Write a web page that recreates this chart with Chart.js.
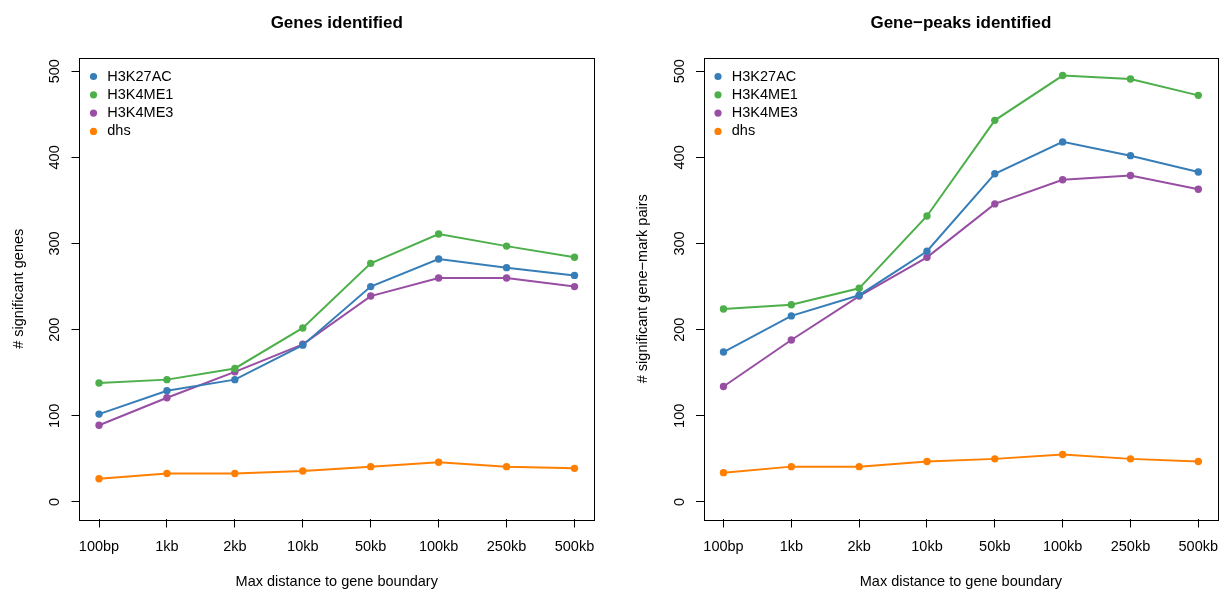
<!DOCTYPE html>
<html>
<head>
<meta charset="utf-8">
<title>Genes identified by distance</title>
<script src="https://cdn.jsdelivr.net/npm/chart.js@4.4.1/dist/chart.umd.min.js"></script>
<style>
  html, body { margin: 0; padding: 0; background: #fff; }
  #wrap { position: relative; width: 1221px; height: 590px; }
  canvas { position: absolute; top: 0; }
</style>
</head>
<body>
<div id="wrap">
  <canvas id="genes" width="610" height="590" style="left:0"></canvas>
  <canvas id="peaks" width="611" height="590" style="left:610px"></canvas>
</div>
<script>
// Distance categories and mark names
const distances = ['100bp', '1kb', '2kb', '10kb', '50kb', '100kb', '250kb', '500kb'];
const marks = ['H3K27AC', 'H3K4ME1', 'H3K4ME3', 'dhs'];
const yTicks = [0, 100, 200, 300, 400, 500];

// Number of significant genes per mark
const genesH3K27AC = [102, 129, 142, 182, 250, 282, 272, 263];
const genesH3K4ME1 = [138, 142, 155, 202, 277, 311, 297, 284];
const genesH3K4ME3 = [89, 121, 151, 183, 239, 260, 260, 250];
const genesDhs = [27, 33, 33, 36, 41, 46, 41, 39];

// Number of significant gene-mark pairs per mark
const peaksH3K27AC = [174, 216, 240, 291, 381, 418, 402, 383];
const peaksH3K4ME1 = [224, 229, 248, 332, 443, 495, 491, 472];
const peaksH3K4ME3 = [134, 188, 239, 284, 346, 374, 379, 363];
const peaksDhs = [34, 41, 41, 47, 50, 55, 50, 47];

const markColors = ['#377EB8', '#4DAF4A', '#984EA3', '#FF7F00'];

const FONT = '"Liberation Sans", Arial, Helvetica, sans-serif';
Chart.defaults.font.family = FONT;
Chart.defaults.color = '#000';

// shared y range, like R's ylim = c(0, max) with 4% padding
const yMax = Math.max(...genesH3K4ME1, ...peaksH3K4ME1);
const yPad = yMax * 0.04;
const xPad = (distances.length - 1) * 0.04;

// frame around the plot area
const boxPlugin = {
  id: 'box',
  afterDraw(chart) {
    const { ctx, chartArea: a } = chart;
    ctx.save();
    ctx.strokeStyle = '#000';
    ctx.lineWidth = 1;
    ctx.strokeRect(Math.round(a.left) - 0.5, Math.round(a.top) - 0.5,
      Math.round(a.right - a.left) + 1, Math.round(a.bottom - a.top) + 1);
    ctx.restore();
  }
};

// legend in the top-left corner of the plot area
const cornerLegend = {
  id: 'cornerLegend',
  afterDatasetsDraw(chart) {
    const { ctx, chartArea: a } = chart;
    ctx.save();
    ctx.font = '14.5px ' + FONT;
    ctx.textBaseline = 'middle';
    ctx.textAlign = 'left';
    chart.data.datasets.forEach((ds, i) => {
      const y = a.top + 18 + i * 18.3;
      ctx.fillStyle = ds.borderColor;
      ctx.beginPath();
      ctx.arc(a.left + 13.5, y, 3.6, 0, Math.PI * 2);
      ctx.fill();
      ctx.fillStyle = '#000';
      ctx.fillText(ds.label, a.left + 27.3, y);
    });
    ctx.restore();
  }
};

function makeChart(id, title, yLabel, series, axisWidth, padRight, yTitleX) {
  const datasets = series.map((values, i) => ({
    label: marks[i],
    data: values.map((v, j) => ({ x: j + 1, y: v })),
    borderColor: markColors[i],
    backgroundColor: markColors[i],
    pointBackgroundColor: markColors[i],
    borderWidth: 2,
    pointRadius: 3.7,
    pointBorderWidth: 0,
    pointHoverRadius: 3.7,
    tension: 0
  }));

  return new Chart(document.getElementById(id), {
    type: 'line',
    data: { datasets },
    plugins: [boxPlugin, cornerLegend],
    options: {
      responsive: false,
      animation: false,
      devicePixelRatio: 1,
      layout: { padding: { left: 0, right: padRight, top: 0, bottom: 0 } },
      plugins: {
        legend: { display: false },
        tooltip: { enabled: false },
        title: {
          display: true,
          text: title,
          fullSize: false,
          color: '#000',
          font: { size: 17, weight: 'bold', lineHeight: 1.2 },
          padding: { top: 13.4, bottom: 24.7 }
        }
      },
      scales: {
        x: {
          type: 'linear',
          min: 1 - xPad,
          max: distances.length + xPad,
          afterBuildTicks: s => { s.ticks = distances.map((d, i) => ({ value: i + 1 })); },
          afterFit: s => {
            s.height = 71;
            // the end labels may hang past the frame, no extra room needed
            s.paddingLeft = 0;
            s.paddingRight = 0;
          },
          ticks: {
            autoSkip: false,
            maxRotation: 0,
            minRotation: 0,
            padding: 10.5,
            color: '#000',
            font: { size: 14.5, lineHeight: 1.2 },
            callback: v => distances[v - 1]
          },
          grid: { drawOnChartArea: false, drawTicks: true, tickLength: 8.5, color: '#000', tickColor: '#000' },
          border: { display: false },
          title: {
            display: true,
            text: 'Max distance to gene boundary',
            color: '#000',
            font: { size: 14.5, lineHeight: 1 },
            padding: { top: 0, bottom: 1 }
          }
        },
        y: {
          min: -yPad,
          max: yMax + yPad,
          afterBuildTicks: s => { s.ticks = yTicks.map(v => ({ value: v })); },
          afterFit: s => {
            s.width = axisWidth;
            s.paddingTop = 0;
            s.paddingBottom = 0;
          },
          ticks: {
            minRotation: 90,
            maxRotation: 90,
            crossAlign: 'center',
            padding: 4,
            color: '#000',
            font: { size: 14.5, lineHeight: 1.2 }
          },
          grid: { drawOnChartArea: false, drawTicks: true, tickLength: 8.5, color: '#000', tickColor: '#000' },
          border: { display: false },
          title: {
            display: true,
            text: yLabel,
            color: '#000',
            font: { size: 14.5, lineHeight: 1.2 },
            padding: { top: yTitleX - 8.7, bottom: 0 }
          }
        }
      }
    }
  });
}

makeChart('genes', 'Genes identified', '# significant genes',
  [genesH3K27AC, genesH3K4ME1, genesH3K4ME3, genesDhs], 80, 16.5, 19);

makeChart('peaks', 'Gene\u2212peaks identified', '# significant gene\u2212mark pairs',
  [peaksH3K27AC, peaksH3K4ME1, peaksH3K4ME3, peaksDhs], 94.5, 3.5, 33);
</script>
</body>
</html>
